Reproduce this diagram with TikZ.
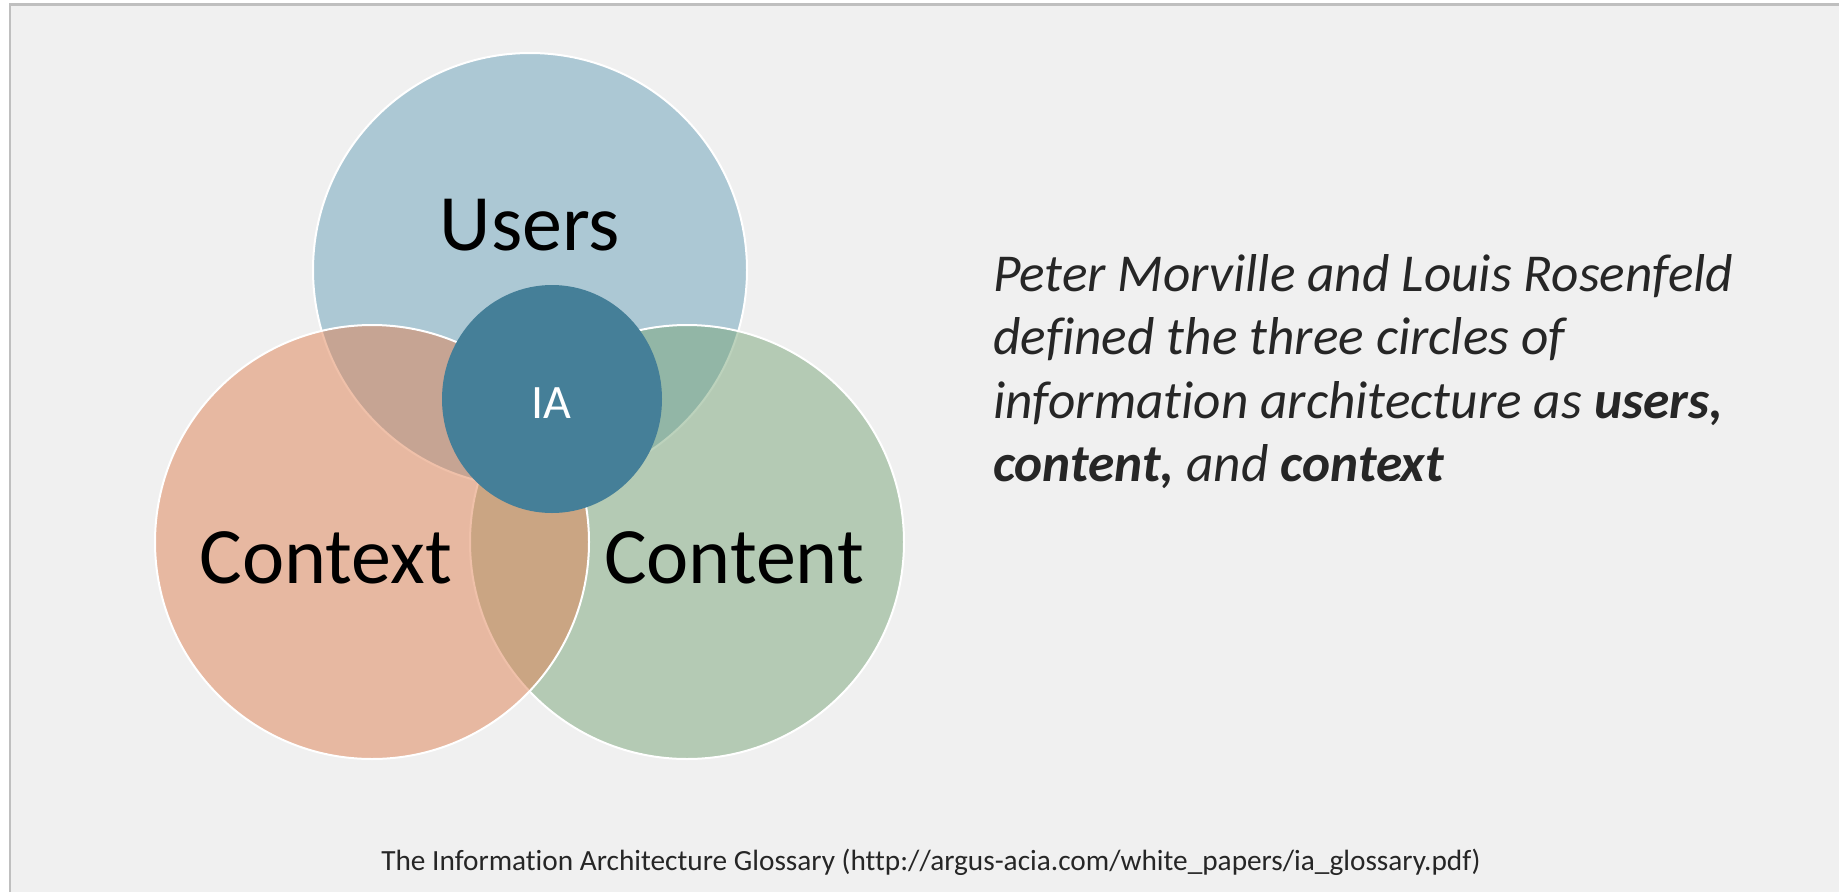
\documentclass[tikz,border=0pt]{standalone}
\usepackage{fontspec}
\setmainfont{Carlito}[Ligatures={NoCommon}]
\usetikzlibrary{shapes.geometric}
\definecolor{bgc}{HTML}{F0F0F0}
\definecolor{framec}{HTML}{BFBFBF}
\definecolor{usersc}{RGB}{106,162,186}
\definecolor{contentc}{RGB}{122,166,122}
\definecolor{contextc}{RGB}{224,130,84}
\definecolor{iac}{HTML}{457F98}
\definecolor{textc}{HTML}{262626}
\tikzset{
  venn/.style={circle, draw=white, line width=2, fill=#1, fill opacity=0.5,
    inner sep=0, outer sep=0, minimum size=434},
  bigname/.style={text=black, inner sep=0, font=\fontsize{80}{96}\selectfont},
}
\begin{document}
\begin{tikzpicture}[x=1pt,y=-1pt]
\useasboundingbox (0,0) rectangle (1839,892);
% page background and frame
\fill[white] (0,0) rectangle (1839,892);
\fill[bgc] (10,5) rectangle (1839,892);
\draw[framec, line width=2.4] (10,892) -- (10,4.6) -- (1839,4.6);

% the three circles, layered users -> content -> context
\node[venn=usersc]   (users)   at (530,270) {};
\node[venn=contentc] (content) at (687,542) {};
\node[venn=contextc] (context) at (372,542) {};

% centre
\node[ellipse, fill=iac, inner sep=0, minimum width=220, minimum height=228] (ia) at (552,399) {};
\node[text=white, inner sep=0, font=\fontsize{48}{58}\selectfont, anchor=base] (ialabel) at (551,418) {IA};

% circle labels
\node[bigname, anchor=base] (userslabel)   at (530,250) {Users};
\node[bigname, anchor=base] (contextlabel) at (326,583) {Context};
\node[bigname, anchor=base] (contentlabel) at (734,583) {Content};

% quotation
\node[text=textc, inner sep=0, anchor=north west, align=left,
      font=\fontsize{53.3}{63.5}\selectfont\itshape] (quote) at (993,254)
  {Peter Morville and Louis Rosenfeld\\
   defined the three circles of\\
   information architecture as \textbf{users,}\\
   \textbf{content,} and \textbf{context}};

% source
\node[text=textc, inner sep=0, anchor=base, font=\fontsize{29.3}{35}\selectfont] (source) at (931,870)
  {The Information Architecture Glossary (http://argus-acia.com/white\_papers/ia\_glossary.pdf)};
\end{tikzpicture}
\end{document}
